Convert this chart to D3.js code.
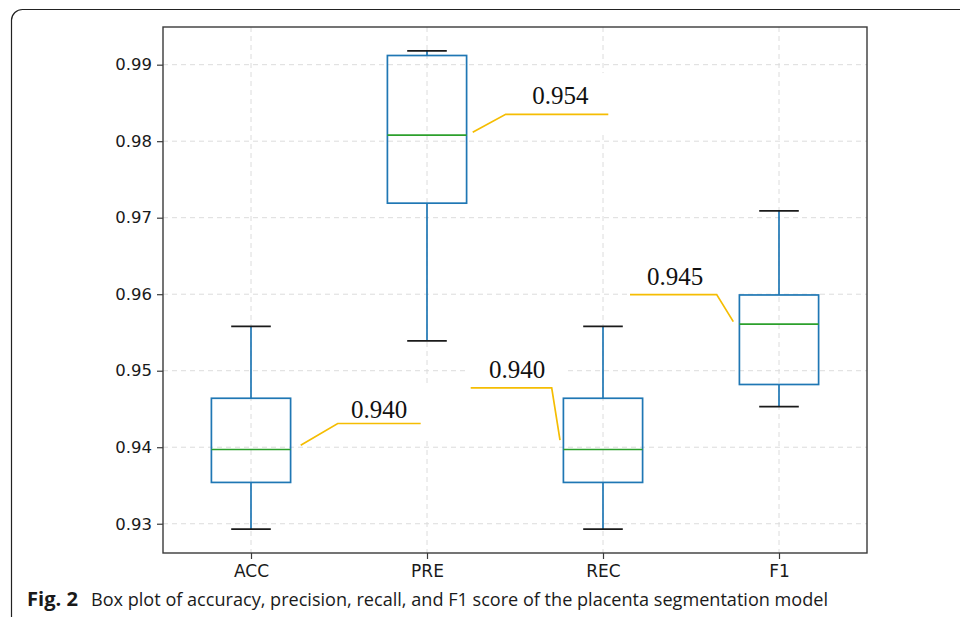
<!DOCTYPE html>
<html>
<head>
<meta charset="utf-8">
<script src="https://cdn.jsdelivr.net/npm/d3@7"></script>
<style>
  html, body { margin: 0; padding: 0; background: #fff; }
  svg { display: block; }
</style>
</head>
<body>
<svg id="chart" width="960" height="617"></svg>
<script>
// ---- data ----
const categories   = ["ACC", "PRE", "REC", "F1"];
const whiskerLow   = [0.9293, 0.9539, 0.9293, 0.9453];
const q1           = [0.9354, 0.9719, 0.9354, 0.9482];
const median       = [0.9397, 0.9808, 0.9397, 0.9561];
const q3           = [0.9464, 0.9912, 0.9464, 0.9599];
const whiskerHigh  = [0.9558, 0.9918, 0.9558, 0.9709];
const yTickValues  = [0.93, 0.94, 0.95, 0.96, 0.97, 0.98, 0.99];
const annoLabels   = ["0.940", "0.954", "0.940", "0.945"];
const captionBold  = "Fig. 2";
const captionText  = "Box plot of accuracy, precision, recall, and F1 score of the placenta segmentation model";

// ---- layout ----
const svg = d3.select("#chart");
const plot = { left: 163, right: 867, top: 27, bottom: 553 };
const boxWidth = 0.45;      // in category units (matplotlib default for 4 boxes)
const capWidth = boxWidth / 2;
const C = { box: "#1f77b4", med: "#2ca02c", cap: "#1a1a1a", anno: "#f5bd02",
            grid: "#dcdcdc", spine: "#3a3a3a", text: "#1a1a1a" };

// annotation geometry: pixel offsets from (box centre, median)
const annoGeom = [
  { pts: [[49.7, -4.3], [86.7, -26], [169.7, -26]],     text: [128, -31.7],  bg: [49, -63, 170, 53] },
  { pts: [[45.7, -2.7], [78.7, -20.7], [181.3, -20.7]], text: [133.3, -31],  bg: [78, -62, 135, 60] },
  { pts: [[-43, -9.3], [-51.3, -61.7], [-132.3, -61.7]],text: [-86, -71.7],  bg: [-138, -95, 103, 40] },
  { pts: [[-45.7, -2.4], [-62.3, -29.4], [-149, -29.4]],text: [-104, -39],   bg: [-149, -62, 105, 36] }
];

// ---- scales ----
const lo = d3.min(whiskerLow), hi = d3.max(whiskerHigh), pad = (hi - lo) * 0.05;
const y = d3.scaleLinear().domain([lo - pad, hi + pad]).range([plot.bottom, plot.top]);
const xPos = d3.scaleLinear().domain([0.5, categories.length + 0.5]).range([plot.left, plot.right]);
const x = d3.scalePoint().domain(categories).range([xPos(1), xPos(categories.length)]);
const unit = xPos(1) - xPos(0);

// ---- outer frame ----
svg.append("path")
  .attr("d", "M11.5,617 L11.5,20 A11,11 0 0 1 22.5,9.5 L960,9.5")
  .attr("fill", "none").attr("stroke", "#222").attr("stroke-width", 1.2);

// ---- grid ----
const grid = svg.append("g");
grid.selectAll("line.h").data(yTickValues).join("line")
  .attr("x1", plot.left).attr("x2", plot.right)
  .attr("y1", d => y(d)).attr("y2", d => y(d))
  .attr("stroke", C.grid).attr("stroke-width", 1).attr("stroke-dasharray", "5,4");
grid.selectAll("line.v").data(categories).join("line")
  .attr("x1", d => x(d)).attr("x2", d => x(d))
  .attr("y1", plot.top).attr("y2", plot.bottom)
  .attr("stroke", C.grid).attr("stroke-width", 1).attr("stroke-dasharray", "5,4");

// white label backgrounds
svg.append("g").selectAll("rect").data(categories).join("rect")
  .attr("x", (d, i) => x(d) + annoGeom[i].bg[0])
  .attr("y", (d, i) => y(median[i]) + annoGeom[i].bg[1])
  .attr("width", (d, i) => annoGeom[i].bg[2])
  .attr("height", (d, i) => annoGeom[i].bg[3])
  .attr("fill", "#fff");

// ---- boxes ----
const g = svg.append("g").selectAll("g").data(categories).join("g");
const half = boxWidth * unit / 2, capHalf = capWidth * unit / 2;
// whiskers
g.append("line").attr("x1", d => x(d)).attr("x2", d => x(d))
  .attr("y1", (d, i) => y(q3[i])).attr("y2", (d, i) => y(whiskerHigh[i]))
  .attr("stroke", C.box).attr("stroke-width", 1.7);
g.append("line").attr("x1", d => x(d)).attr("x2", d => x(d))
  .attr("y1", (d, i) => y(q1[i])).attr("y2", (d, i) => y(whiskerLow[i]))
  .attr("stroke", C.box).attr("stroke-width", 1.7);
// caps
g.append("line").attr("x1", d => x(d) - capHalf).attr("x2", d => x(d) + capHalf)
  .attr("y1", (d, i) => y(whiskerHigh[i])).attr("y2", (d, i) => y(whiskerHigh[i]))
  .attr("stroke", C.cap).attr("stroke-width", 1.7);
g.append("line").attr("x1", d => x(d) - capHalf).attr("x2", d => x(d) + capHalf)
  .attr("y1", (d, i) => y(whiskerLow[i])).attr("y2", (d, i) => y(whiskerLow[i]))
  .attr("stroke", C.cap).attr("stroke-width", 1.7);
// box
g.append("rect")
  .attr("x", d => x(d) - half).attr("width", 2 * half)
  .attr("y", (d, i) => y(q3[i])).attr("height", (d, i) => y(q1[i]) - y(q3[i]))
  .attr("fill", "none").attr("stroke", C.box).attr("stroke-width", 1.7);
// median
g.append("line").attr("x1", d => x(d) - half).attr("x2", d => x(d) + half)
  .attr("y1", (d, i) => y(median[i])).attr("y2", (d, i) => y(median[i]))
  .attr("stroke", C.med).attr("stroke-width", 1.7);

// ---- annotations ----
const ann = svg.append("g").selectAll("g").data(categories).join("g");
ann.append("polyline")
  .attr("points", (d, i) => annoGeom[i].pts.map(p => [x(d) + p[0], y(median[i]) + p[1]].join(",")).join(" "))
  .attr("fill", "none").attr("stroke", C.anno).attr("stroke-width", 1.7);
ann.append("text")
  .attr("x", (d, i) => x(d) + annoGeom[i].text[0])
  .attr("y", (d, i) => y(median[i]) + annoGeom[i].text[1])
  .attr("text-anchor", "middle")
  .attr("font-family", "'Liberation Serif', 'Times New Roman', serif")
  .attr("font-size", 25).attr("fill", "#111")
  .text((d, i) => annoLabels[i]);

// ---- axes ----
const yAxis = d3.axisLeft(y).tickValues(yTickValues).tickFormat(d3.format(".2f")).tickSize(6).tickPadding(5);
const xAxis = d3.axisBottom(x).tickSize(6).tickPadding(6);
const ya = svg.append("g").attr("transform", `translate(${plot.left},0)`).call(yAxis);
const xa = svg.append("g").attr("transform", `translate(0,${plot.bottom})`).call(xAxis);
[ya, xa].forEach(a => {
  a.select(".domain").remove();
  a.selectAll(".tick line").attr("stroke", C.spine).attr("stroke-width", 1.2);
  a.selectAll(".tick text").attr("fill", C.text).attr("font-family", "'DejaVu Sans', sans-serif");
});
ya.selectAll(".tick text").attr("font-size", 16.5);
xa.selectAll(".tick text").attr("font-size", 17);

// spines
svg.append("rect")
  .attr("x", plot.left).attr("y", plot.top)
  .attr("width", plot.right - plot.left).attr("height", plot.bottom - plot.top)
  .attr("fill", "none").attr("stroke", C.spine).attr("stroke-width", 1.4);

// ---- caption ----
svg.append("text").attr("x", 27).attr("y", 606)
  .attr("font-family", "'Open Sans', sans-serif").attr("font-size", 19).attr("font-weight", "bold")
  .attr("fill", "#1a1a1a")
  .attr("textLength", 51).attr("lengthAdjust", "spacingAndGlyphs").text(captionBold);
svg.append("text").attr("x", 91).attr("y", 606)
  .attr("font-family", "'Open Sans', sans-serif").attr("font-size", 19).attr("fill", "#1a1a1a")
  .attr("textLength", 737).attr("lengthAdjust", "spacingAndGlyphs")
  .text(captionText);
</script>
</body>
</html>
